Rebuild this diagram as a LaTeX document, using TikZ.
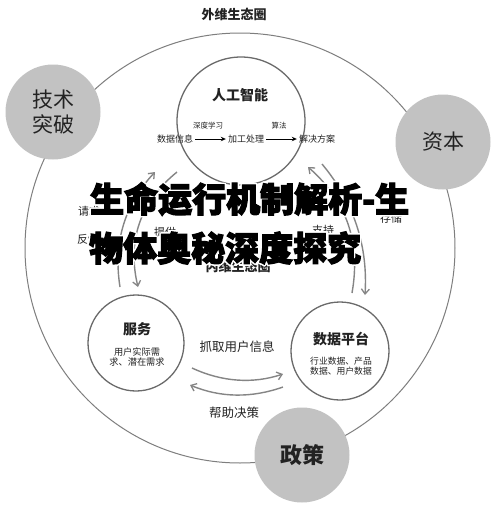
\documentclass[tikz,border=0pt]{standalone}
\usepackage{fontspec}
\setmainfont{Noto Sans CJK SC}
\newfontfamily\heavyfont{Noto Sans CJK SC}[FakeBold=3.5]
\usetikzlibrary{arrows.meta}
\definecolor{ringgray}{HTML}{7E7E7E}
\definecolor{innergray}{HTML}{6A6A6A}
\definecolor{discfill}{HTML}{C2C2C2}
\definecolor{arrowgray}{HTML}{858585}
\definecolor{txt}{HTML}{222222}
\tikzset{
  fs/.style={font=\fontsize{#1}{#1}\selectfont},
  disc/.style={circle, fill=discfill, minimum size=95pt, inner sep=0pt, text=txt, font=\fontsize{21}{27}\selectfont, align=center},
  ring/.style={circle, draw=innergray, line width=1.3pt, inner sep=0pt, fill=white},
  lbl/.style={text=txt, inner sep=1pt},
  grayarc/.style={draw=arrowgray, line width=1.4pt, -{Straight Barb[length=5pt,width=8pt,line width=1.3pt]}},
  blackarr/.style={draw=black, line width=1pt, -{Stealth[length=5pt,width=4.5pt]}, shorten >=1pt, shorten <=1pt},
  titletext/.style={anchor=west, inner sep=0pt, font=\heavyfont\bfseries\fontsize{34}{34}\selectfont}
}
\begin{document}
\begin{tikzpicture}[x=1pt,y=-1pt]
\useasboundingbox (0,0) rectangle (500,507);
\fill[white] (0,0) rectangle (500,507);

% outer ring
\node[circle, draw=ringgray, line width=1pt, minimum size=430pt, inner sep=0pt] (outer) at (240,248) {};
\node[lbl, fs=13, font=\bfseries\fontsize{13}{13}\selectfont] (outerlbl) at (234,14) {外维生态圈};

% gray discs
\node[disc] (tech) at (53,112) {技术\\[-2pt]突破};
\node[disc] (capital) at (443,142) {资本};
\node[disc, font=\bfseries\fontsize{22}{22}\selectfont] (policy) at (302,455) {政策};

% AI circle
\node[ring, minimum size=128pt] (ai) at (241,121) {};
\node[lbl, font=\bfseries\fontsize{14}{14}\selectfont] (aititle) at (240,95) {人工智能};
\node[lbl, fs=9] (d1) at (175,139) {数据信息};
\node[lbl, fs=9] (d2) at (246,139) {加工处理};
\node[lbl, fs=9] (d3) at (317,139) {解决方案};
\node[lbl, fs=7.5] (l1) at (208,126) {深度学习};
\node[lbl, fs=7.5] (l2) at (279,126) {算法};
\draw[blackarr] (d1.east) -- (d2.west);
\draw[blackarr] (d2.east) -- (d3.west);

% service circle
\node[ring, minimum size=96pt] (svc) at (136,343) {};
\node[lbl, font=\bfseries\fontsize{14}{14}\selectfont] (svctitle) at (137,329) {服务};
\node[lbl, fs=9.2, align=center] (svctext) at (137,357) {用户实际需\\[1pt]求、潜在需求};

% data platform circle
\node[ring, minimum size=98pt] (dp) at (340,351) {};
\node[lbl, font=\bfseries\fontsize{14}{14}\selectfont] (dptitle) at (341,339) {数据平台};
\node[lbl, fs=8.8, align=center] (dptext) at (341,366) {行业数据、产品\\[1pt]数据、用户数据};

% arc end points
\coordinate (la1) at (120,287); \coordinate (la2) at (155,172);
\coordinate (lb1) at (177,172); \coordinate (lb2) at (138,287);
\coordinate (ra1) at (352,293); \coordinate (ra2) at (308,167);
\coordinate (rb1) at (322,164); \coordinate (rb2) at (365,295);
\coordinate (ba1) at (192,368); \coordinate (ba2) at (283,374);
\coordinate (bb1) at (283,387); \coordinate (bb2) at (190,385);

\draw[grayarc] (la1) .. controls (113,243) and (124.5,204.6) .. (la2);
\draw[grayarc] (lb1) .. controls (140,202) and (127,240.6) .. (lb2);
\draw[grayarc] (ra1) .. controls (361,242.7) and (346.6,200.7) .. (ra2);
\draw[grayarc] (rb1) .. controls (353.7,202) and (368,245.6) .. (rb2);
\draw[grayarc] (ba1) .. controls (222,382) and (253,384) .. (ba2);
\draw[grayarc] (bb1) .. controls (252,398) and (221,398) .. (bb2);

% labels
\node[lbl, fs=11] (req) at (89,211) {请求};
\node[lbl, fs=11] (fb) at (88,239) {反馈};
\node[lbl, fs=11] (prov) at (165,232) {提供};
\node[lbl, fs=11] (supp) at (323,230) {支持};
\node[lbl, fs=11] (stor) at (391,218) {存储};
\node[lbl, font=\bfseries\fontsize{13}{13}\selectfont] (innerlbl) at (238,266) {内维生态圈};
\node[lbl, fs=12.5] (grab) at (237,347) {抓取用户信息};
\node[lbl, fs=12.5] (help) at (234,413) {帮助决策};

% title overlay with thin white halo
\foreach \dx/\dy in {-1.6/0,1.6/0,0/-1.6,0/1.6,-1.1/-1.1,1.1/-1.1,-1.1/1.1,1.1/1.1}{
  \node[titletext, text=white, xshift=\dx pt, yshift=\dy pt] at (90,199) {生命运行机制解析-生};
  \node[titletext, text=white, xshift=\dx pt, yshift=\dy pt] at (89,248) {物体奥秘深度探究};
}
\node[titletext, text=black] (title1) at (90,199) {生命运行机制解析-生};
\node[titletext, text=black] (title2) at (89,248) {物体奥秘深度探究};
\end{tikzpicture}
\end{document}
